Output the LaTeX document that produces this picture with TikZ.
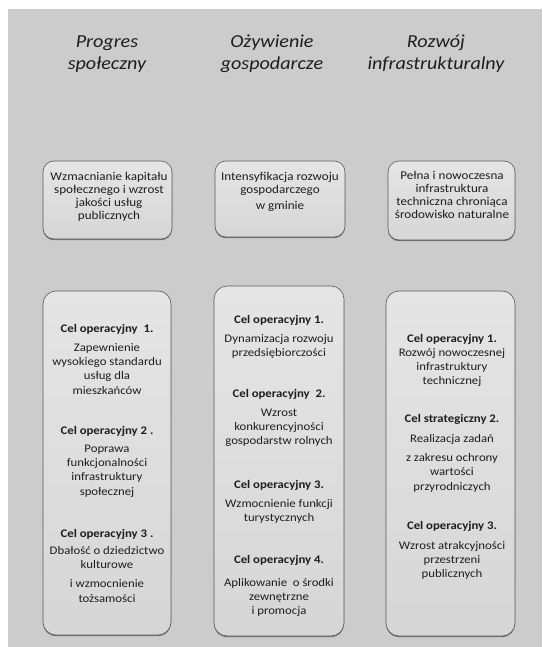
\documentclass[tikz,border=0pt]{standalone}
\usepackage{fontspec}
\setmainfont{Carlito}[FakeStretch=1.1]
\usetikzlibrary{shadows}
\definecolor{panel}{RGB}{204,204,204}
\definecolor{boxtop}{RGB}{229,229,229}
\definecolor{boxbot}{RGB}{214,214,214}
\definecolor{ink}{RGB}{30,30,30}
\definecolor{edge}{RGB}{90,90,90}
\newcommand{\lineA}{\rule{0pt}{12pt}}
\newcommand{\lineH}{\rule{0pt}{20pt}}
\begin{document}
\begin{tikzpicture}[x=1pt,y=-1pt,
  goalbox/.style={draw=edge, line width=0.6pt, rounded corners=11pt,
    top color=boxtop, bottom color=boxbot,
    drop shadow={shadow xshift=0pt, shadow yshift=-1.2pt, fill=edge, opacity=0.8},
    inner sep=0pt},
  head/.style={align=center, font=\fontsize{18.3}{21.5}\selectfont\itshape, text=ink, inner sep=0pt, anchor=north},
  toptext/.style={align=center, font=\fontsize{11.9}{13}\selectfont, text=ink, inner sep=0pt, anchor=north},
  goaltext/.style={align=center, font=\fontsize{11.6}{14.2}\selectfont, text=ink, inner sep=0pt, anchor=north}
]
\fill[white] (0,0) rectangle (542,647);
\useasboundingbox (0,0) rectangle (542,647);
\fill[panel] (8,9) rectangle (542,647);

% headers (baseline of first line = y + 20)
\node[head] (h1) at (107,27.8) {\lineH Progres\\społeczny};
\node[head] (h2) at (272,27.8) {\lineH Ożywienie\\gospodarcze};
\node[head] (h3) at (436,27.8) {\lineH Rozwój\\infrastrukturalny};

% strategic goal boxes
\node[goalbox, minimum width=129pt, minimum height=78pt] (t1) at (107.5,200) {};
\node[goalbox, minimum width=130pt, minimum height=76pt] (t2) at (280,199) {};
\node[goalbox, minimum width=127pt, minimum height=79pt] (t3) at (451.5,200.5) {};

% (baseline of first line = y + 12)
\node[toptext] (tt1) at (109,168) {\lineA Wzmacnianie kapitału\\społecznego i wzrost\\jakości usług\\publicznych};
\node[toptext] (tt2) at (280,168) {\lineA Intensyfikacja rozwoju\\gospodarczego\\[3pt]w gminie};
\node[toptext] (tt3) at (452,167.5) {\lineA Pełna i nowoczesna\\infrastruktura\\techniczna chroniąca\\środowisko naturalne};

% operational goal boxes
\node[goalbox, minimum width=128pt, minimum height=344pt, rounded corners=13pt] (b1) at (107,463) {};
\node[goalbox, minimum width=130pt, minimum height=350pt, rounded corners=13pt] (b2) at (279,461) {};
\node[goalbox, minimum width=129pt, minimum height=345pt, rounded corners=13pt] (b3) at (450.5,463.5) {};

% left column
\node[goaltext] (l1) at (107,320) {\lineA\textbf{Cel operacyjny\ \ 1.}\\[5pt]Zapewnienie\\wysokiego standardu\\usług dla\\mieszkańców};
\node[goaltext] (l2) at (107,422) {\lineA\textbf{Cel operacyjny 2 .}\\[4pt]Poprawa\\funkcjonalności\\infrastruktury\\społecznej};
\node[goaltext] (l3) at (107,525) {\lineA\textbf{Cel operacyjny 3 .}\\[3pt]Dbałość o dziedzictwo\\kulturowe\\[5pt]i wzmocnienie\\tożsamości};

% middle column
\node[goaltext] (m1) at (279,311) {\lineA\textbf{Cel operacyjny 1.}\\[5pt]Dynamizacja rozwoju\\przedsiębiorczości};
\node[goaltext] (m2) at (279,385) {\lineA\textbf{Cel operacyjny\ \ 2.}\\[5pt]Wzrost\\konkurencyjności\\gospodarstw rolnych};
\node[goaltext] (m3) at (279,476) {\lineA\textbf{Cel operacyjny 3.}\\[5pt]Wzmocnienie funkcji\\turystycznych};
\node[goaltext] (m4) at (279,551) {\lineA\textbf{Cel operacyjny 4.}\\[9pt]Aplikowanie\ \ o środki\\zewnętrzne\\i promocja};

% right column
\node[goaltext] (r1) at (452,330) {\lineA\textbf{Cel operacyjny 1.}\\Rozwój nowoczesnej\\infrastruktury\\technicznej};
\node[goaltext] (r2) at (452,410) {\lineA\textbf{Cel strategiczny 2.}\\[6pt]Realizacja zadań\\[5pt]z zakresu ochrony\\wartości\\przyrodniczych};
\node[goaltext] (r3) at (452,517) {\lineA\textbf{Cel operacyjny 3.}\\[6pt]Wzrost atrakcyjności\\przestrzeni\\publicznych};
\end{tikzpicture}
\end{document}
